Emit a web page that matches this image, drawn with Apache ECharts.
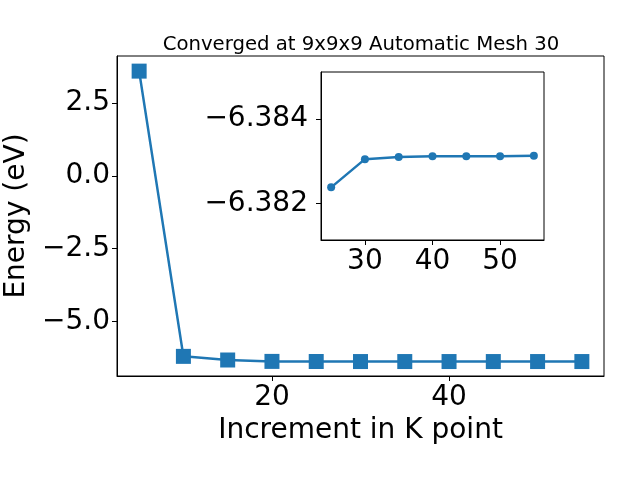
<!DOCTYPE html>
<html>
<head>
<meta charset="utf-8">
<script src="https://cdn.jsdelivr.net/npm/echarts@6/dist/echarts.min.js"></script>
<style>html,body{margin:0;padding:0;background:#fff}#c{width:640px;height:480px}</style>
</head>
<body>
<div id="c"></div>
<script>
const kPoints = [5, 10, 15, 20, 25, 30, 35, 40, 45, 50, 55];
const energies = [3.60, -6.205, -6.33, -6.378, -6.38238, -6.38305, -6.38310, -6.38312, -6.38312, -6.38312, -6.38313];
const insetK = [25, 30, 35, 40, 45, 50, 55];
const insetEnergies = [-6.38238, -6.38305, -6.38310, -6.38312, -6.38312, -6.38312, -6.38313];
const mainXTicks = [20, 40];
const mainYTicks = [2.5, 0.0, -2.5, -5.0];
const insetXTicks = [30, 40, 50];
const insetYTicks = [-6.384, -6.382];
const titleText = 'Converged at 9x9x9 Automatic Mesh 30';
const xName = 'Increment in K point';
const yName = 'Energy (eV)';

const FONT = 'DejaVu Sans';
const BLUE = '#1f77b4';
const minus = s => s.replace('-', '\u2212');

const chart = echarts.init(document.getElementById('c'), null, {renderer: 'canvas'});
const axisCommon = {
  axisLine: {show: true, onZero: false, lineStyle: {color: '#000', width: 1}},
  axisTick: {show: true, length: 5, inside: false, lineStyle: {color: '#000', width: 1}},
  splitLine: {show: false},
};
chart.setOption({
  animation: false,
  backgroundColor: '#fff',
  title: {
    text: titleText, left: 356, top: 30, textAlign: 'center',
    textStyle: {fontFamily: FONT, fontSize: 19.7, fontWeight: 'normal', color: '#000'}
  },
  grid: [
    {left: 117, right: 36, top: 56, bottom: 104, show: true, borderColor: '#000', borderWidth: 1,
      backgroundColor: 'transparent', containLabel: false, outerBoundsMode: 'none'},
    {left: 321, right: 96, top: 72, bottom: 240, show: true, borderColor: '#000', borderWidth: 1,
      backgroundColor: '#fff', z: 10, containLabel: false, outerBoundsMode: 'none'}
  ],
  xAxis: [
    Object.assign({}, axisCommon, {
      type: 'value', gridIndex: 0, min: 2.5, max: 57.5,
      name: xName, nameLocation: 'middle', nameGap: 31,
      nameTextStyle: {fontFamily: FONT, fontSize: 28, color: '#000', verticalAlign: 'top'},
      axisTick: Object.assign({}, axisCommon.axisTick, {customValues: mainXTicks}),
      axisLabel: {customValues: mainXTicks, fontFamily: FONT, fontSize: 28, color: '#000', margin: 8,
        formatter: v => minus(String(Math.round(v)))}
    }),
    Object.assign({}, axisCommon, {
      type: 'value', gridIndex: 1, min: 23.5, max: 56.5, z: 11,
      axisTick: Object.assign({}, axisCommon.axisTick, {customValues: insetXTicks}),
      axisLabel: {customValues: insetXTicks, fontFamily: FONT, fontSize: 28, color: '#000', margin: 8,
        formatter: v => minus(String(Math.round(v)))}
    })
  ],
  yAxis: [
    Object.assign({}, axisCommon, {
      type: 'value', gridIndex: 0, min: -6.88, max: 4.12,
      name: yName, nameLocation: 'middle', nameRotate: 90, nameGap: 80,
      nameTextStyle: {fontFamily: FONT, fontSize: 28, color: '#000'},
      axisTick: Object.assign({}, axisCommon.axisTick, {customValues: mainYTicks}),
      axisLabel: {customValues: mainYTicks, fontFamily: FONT, fontSize: 28, color: '#000', margin: 7,
        formatter: v => minus(v.toFixed(1))}
    }),
    Object.assign({}, axisCommon, {
      type: 'value', gridIndex: 1, min: -6.38512, max: -6.38113, inverse: true, z: 11,
      axisTick: Object.assign({}, axisCommon.axisTick, {customValues: insetYTicks}),
      axisLabel: {customValues: insetYTicks, fontFamily: FONT, fontSize: 28, color: '#000', margin: 13,
        formatter: v => minus(v.toFixed(3))}
    })
  ],
  series: [
    {
      type: 'line', xAxisIndex: 0, yAxisIndex: 0,
      data: kPoints.map((k, i) => [k, energies[i]]),
      symbol: 'rect', symbolSize: 15, showSymbol: true,
      lineStyle: {color: BLUE, width: 2.5},
      itemStyle: {color: BLUE, borderWidth: 0},
      z: 2
    },
    {
      type: 'line', xAxisIndex: 1, yAxisIndex: 1,
      data: insetK.map((k, i) => [k, insetEnergies[i]]),
      symbol: 'circle', symbolSize: 8, showSymbol: true,
      lineStyle: {color: BLUE, width: 2.5},
      itemStyle: {color: BLUE, borderWidth: 0},
      z: 12
    }
  ]
});
</script>
</body>
</html>
